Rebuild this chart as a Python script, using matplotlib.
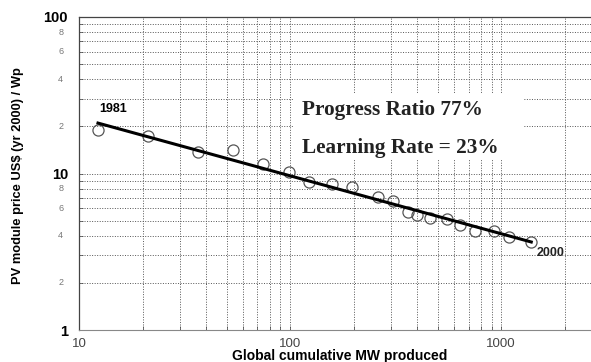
import matplotlib
matplotlib.use("Agg")
import matplotlib.pyplot as plt
from matplotlib.ticker import FixedLocator, FixedFormatter, NullFormatter
from matplotlib.patches import Rectangle

# ---- data ----
cum_mw = [12.3, 21.2, 36.6, 53.7, 74.5, 98.9, 123, 158, 197, 261,
          308, 362, 400, 461, 555, 639, 753, 927, 1091, 1387]
price = [19.0, 17.4, 13.7, 14.1, 11.5, 10.2, 8.82, 8.57, 8.2, 7.08,
         6.67, 5.68, 5.43, 5.19, 5.12, 4.69, 4.29, 4.29, 3.93, 3.65]
trend_x = [12.3, 1387]
trend_y = [21.0, 3.65]

x_major = [10, 100, 1000]
x_major_labels = ["10", "100", "1000"]
y_major = [1, 10, 100]
y_major_labels = ["1", "10", "100"]
y_minor = [2, 4, 6, 8, 20, 40, 60, 80]
y_minor_labels = ["2", "4", "6", "8", "2", "4", "6", "8"]
y_grid_minor = [2, 3, 4, 5, 6, 7, 8, 9, 20, 30, 40, 50, 60, 70, 80, 90]
x_grid_minor = [20, 30, 40, 50, 60, 70, 80, 90, 200, 300, 400, 500, 600, 700, 800, 900, 2000]

start_label = "1981"
end_label = "2000"
text1 = "Progress Ratio 77%"
text2 = "Learning Rate = 23%"
xlabel = "Global cumulative MW produced"
ylabel = "PV module price US$ (yr 2000) / Wp"

W, H = 591, 362
fig = plt.figure(figsize=(W / 100, H / 100), dpi=100)
l, r, b, t = 79, 602, 330, 17
ax = fig.add_axes([l / W, (H - b) / H, (r - l) / W, (b - t) / H])
ax.set_xscale("log")
ax.set_yscale("log")
ax.set_xlim(10, 3000)
ax.set_ylim(1, 100)

# grid
ax.set_axisbelow(True)
ax.xaxis.set_major_locator(FixedLocator(x_major))
ax.xaxis.set_minor_locator(FixedLocator(x_grid_minor))
ax.yaxis.set_major_locator(FixedLocator(y_major))
ax.yaxis.set_minor_locator(FixedLocator(y_grid_minor))
gkw = dict(color="#555555", linestyle=(0, (1, 1.6)), linewidth=0.7)
ax.grid(True, which="both", **gkw)

ax.xaxis.set_major_formatter(FixedFormatter(x_major_labels))
ax.xaxis.set_minor_formatter(NullFormatter())
ax.yaxis.set_major_formatter(FixedFormatter(y_major_labels))
ax.yaxis.set_minor_formatter(NullFormatter())
ax.tick_params(axis="both", which="both", direction="in", length=3, width=0.6, color="#555555")
ax.tick_params(axis="x", which="major", labelsize=9.5, labelcolor="#444444", pad=6)
ax.tick_params(axis="y", which="major", labelsize=10.5, pad=8)
for lab in ax.get_yticklabels():
    lab.set_fontweight("bold")
    lab.set_family("Liberation Sans")
for lab in ax.get_xticklabels():
    lab.set_family("Liberation Sans")

# small minor y labels
for v, s in zip(y_minor, y_minor_labels):
    ax.text(-0.03, v, s, transform=ax.get_yaxis_transform(), ha="right", va="center",
            fontsize=6.5, color="#777777", family="Liberation Sans")

for side in ["top", "left"]:
    ax.spines[side].set_color("#444444")
    ax.spines[side].set_linewidth(0.9)
ax.spines["bottom"].set_color("#888888")
ax.spines["bottom"].set_linewidth(0.8)
ax.spines["right"].set_visible(False)

# white box behind the annotation text
x0, x1 = (293 - l) / (r - l), (523 - l) / (r - l)
y0, y1 = (b - 160) / (b - t), (b - 93) / (b - t)
ax.add_patch(Rectangle((x0, y0), x1 - x0, y1 - y0, transform=ax.transAxes,
                       facecolor="white", edgecolor="none", zorder=1))

ax.plot(cum_mw, price, linestyle="none", marker="o", markersize=8,
        markerfacecolor="none", markeredgecolor="#555555", markeredgewidth=0.9, zorder=3)
ax.plot(trend_x, trend_y, color="black", linewidth=2.2, zorder=4)

ax.annotate(start_label, (trend_x[0], trend_y[0]), xytext=(1, 6), textcoords="offset points",
            ha="left", va="bottom", fontsize=9, fontweight="bold", family="Liberation Sans", zorder=5)
ax.annotate(end_label, (cum_mw[-1], price[-1]), xytext=(4, -8), textcoords="offset points",
            ha="left", va="center", fontsize=9, fontweight="bold", family="Liberation Sans",
            color="#222222", zorder=5)

tx = (302 - l) / (r - l)
ax.text(tx, (b - 110) / (b - t), text1, transform=ax.transAxes, ha="left", va="center",
        fontsize=15.3, fontweight="bold", family="Liberation Serif", color="#222222", zorder=5)
ax.text(tx, (b - 148) / (b - t), text2, transform=ax.transAxes, ha="left", va="center",
        fontsize=15.3, fontweight="bold", family="Liberation Serif", color="#222222", zorder=5)

fig.text(340 / W, 1 - 356 / H, xlabel, ha="center", va="center", fontsize=10,
         fontweight="bold", family="Liberation Sans")
fig.text(18 / W, 1 - 176 / H, ylabel, ha="center", va="center", rotation=90,
         fontsize=9.3, fontweight="bold", family="Liberation Sans")

fig.savefig("out.png", dpi=100)
